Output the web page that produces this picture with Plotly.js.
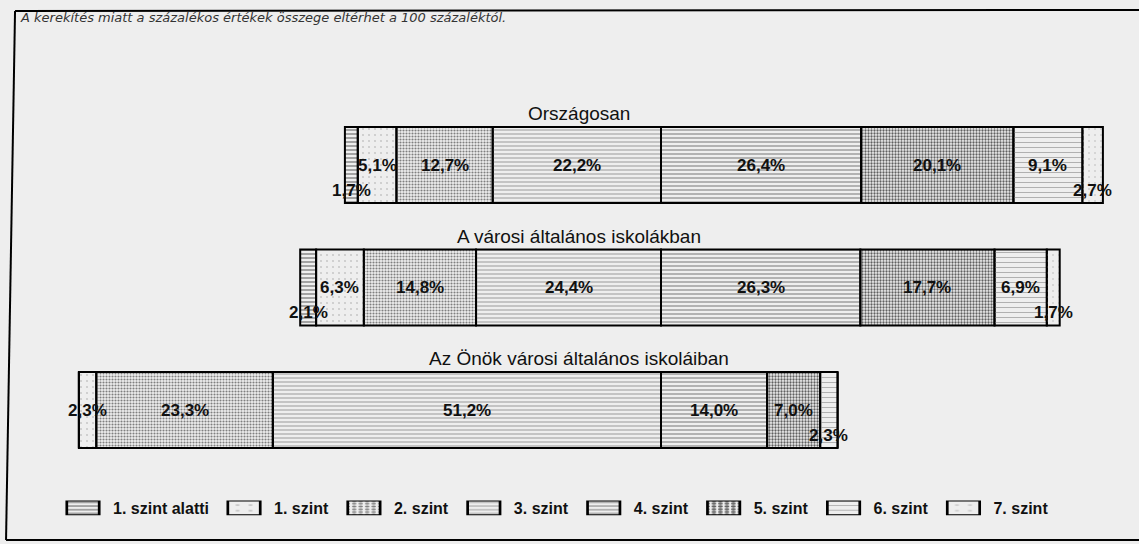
<!DOCTYPE html>
<html><head><meta charset="utf-8">
<script src="https://cdn.plot.ly/plotly-3.0.1.min.js"></script>
<style>html,body{margin:0;padding:0;background:#eeeeee}</style>
</head><body><div id="chart" style="width:1139px;height:544px"></div>
<script>
const groups = ['Országosan', 'A városi általános iskolákban', 'Az Önök városi általános iskoláiban'];
const levels = ['1. szint alatti', '1. szint', '2. szint', '3. szint', '4. szint', '5. szint', '6. szint', '7. szint'];
const orszagosan = [1.7, 5.1, 12.7, 22.2, 26.4, 20.1, 9.1, 2.7];
const varosi = [2.1, 6.3, 14.8, 24.4, 26.3, 17.7, 6.9, 1.7];
const onok = [0, 2.3, 23.3, 51.2, 14.0, 7.0, 2.3, 0];
const note = 'A kerekítés miatt a százalékos értékek összege eltérhet a 100 százaléktól.';

const rows = [orszagosan, varosi, onok];
const splitAfter = 3; // bars are aligned at the boundary between 3. and 4. szint

const styles = [
  {color: '#b9b9b9', shape: '-', fg: '#707070', size: 4, sol: 0.3},
  {color: '#f7f7f7', shape: '.', fg: '#c8c8c8', size: 6, sol: 0.1},
  {color: '#bfbfbf', shape: '.', fg: '#808080', size: 3, sol: 0.4},
  {color: '#e6e6e6', shape: '-', fg: '#9a9a9a', size: 4, sol: 0.25},
  {color: '#d2d2d2', shape: '-', fg: '#8a8a8a', size: 4, sol: 0.3},
  {color: '#a8a8a8', shape: '.', fg: '#606060', size: 3, sol: 0.45},
  {color: '#f1f1f1', shape: '-', fg: '#b0b0b0', size: 5, sol: 0.2},
  {color: '#f9f9f9', shape: '.', fg: '#d0d0d0', size: 6, sol: 0.1}
];

function baseOf(row, j) {
  let left = 0;
  for (let k = 0; k <= splitAfter; k++) left += row[k];
  let s = 0;
  for (let k = 0; k < j; k++) s += row[k];
  return s - left;
}

const traces = levels.map((name, j) => ({
  type: 'bar', orientation: 'h', name: name,
  y: groups,
  x: rows.map(r => r[j]),
  base: rows.map(r => baseOf(r, j)),
  width: 0.62,
  marker: {
    color: styles[j].color,
    line: {color: '#000', width: 2},
    pattern: {shape: styles[j].shape, fgcolor: styles[j].fg, size: styles[j].size, solidity: styles[j].sol}
  },
  hoverinfo: 'skip'
}));

const annotations = [];
const labelFont = {family: 'Liberation Sans, Arial, sans-serif', size: 17, color: '#111', weight: 'bold'};
rows.forEach((row, i) => {
  annotations.push({
    xref: 'paper', x: 579 / 1139, yref: 'y', y: i - 0.42, text: groups[i], showarrow: false,
    xanchor: 'center', yanchor: 'middle',
    font: {family: 'Liberation Sans, Arial, sans-serif', size: 19, color: '#111'}
  });
  row.forEach((v, j) => {
    if (v <= 0) return;
    let prev = null, next = null;
    for (let k = j - 1; k >= 0; k--) if (row[k] > 0) { prev = row[k]; break; }
    for (let k = j + 1; k < row.length; k++) if (row[k] > 0) { next = row[k]; break; }
    const crowded = v < 3 && ((prev !== null && prev < 10) || (next !== null && next < 10));
    annotations.push({
      xref: 'x', yref: 'y', x: baseOf(row, j) + v / 2, y: i,
      yshift: crowded ? -25 : 0,
      text: v.toFixed(1).replace('.', ',') + '%', showarrow: false,
      xanchor: 'center', yanchor: 'middle', font: labelFont
    });
  });
});
annotations.push({
  xref: 'paper', yref: 'paper', x: 18 / 1139, y: 1 - 18 / 544, text: '<i>' + note + '</i>',
  showarrow: false, xanchor: 'left', yanchor: 'middle',
  font: {family: 'DejaVu Sans, sans-serif', size: 13, color: '#333'}
});

const W = 1139, H = 544;
const px = (x, y) => (x / W).toFixed(4) + ',' + (1 - y / H).toFixed(4);
const shapes = [
  {type: 'path', xref: 'paper', yref: 'paper', path: 'M' + px(15, 11) + ' L' + px(1139, 10), line: {color: '#000', width: 2}},
  {type: 'path', xref: 'paper', yref: 'paper', path: 'M' + px(15, 11) + ' L' + px(6, 540), line: {color: '#000', width: 2}},
  {type: 'path', xref: 'paper', yref: 'paper', path: 'M' + px(6, 540) + ' L' + px(1139, 540), line: {color: '#000', width: 2}}
];

const scale = 7.58, center = 661;
const layout = {
  width: W, height: H,
  margin: {l: 0, r: 0, t: 0, b: 0},
  paper_bgcolor: '#eeeeee', plot_bgcolor: 'rgba(0,0,0,0)',
  barmode: 'overlay',
  xaxis: {range: [-center / scale, (W - center) / scale], visible: false, fixedrange: true},
  yaxis: {type: 'category', range: [(H - 165) / 122.5, -165 / 122.5], visible: false, fixedrange: true},
  showlegend: true,
  legend: {
    orientation: 'h', x: 53 / W, xanchor: 'left', y: 1 - 508 / H, yanchor: 'middle',
    bgcolor: 'rgba(0,0,0,0)', itemwidth: 50, traceorder: 'normal',
    font: {family: 'Liberation Sans, Arial, sans-serif', size: 16, color: '#111', weight: 'bold'}
  },
  annotations: annotations,
  shapes: shapes
};

Plotly.newPlot('chart', traces, layout, {displayModeBar: false, staticPlot: true}).then(gd => {
  // widen the legend swatches to the boxed look of the original key
  gd.querySelectorAll('.legend .legendpoints path').forEach(p => {
    const t = p.getAttribute('transform') || '';
    p.setAttribute('transform', t + ' scale(2.7,1.15)');
    p.style.strokeWidth = '1px';
    p.style.stroke = '#000';
  });
});
</script>
</body></html>
